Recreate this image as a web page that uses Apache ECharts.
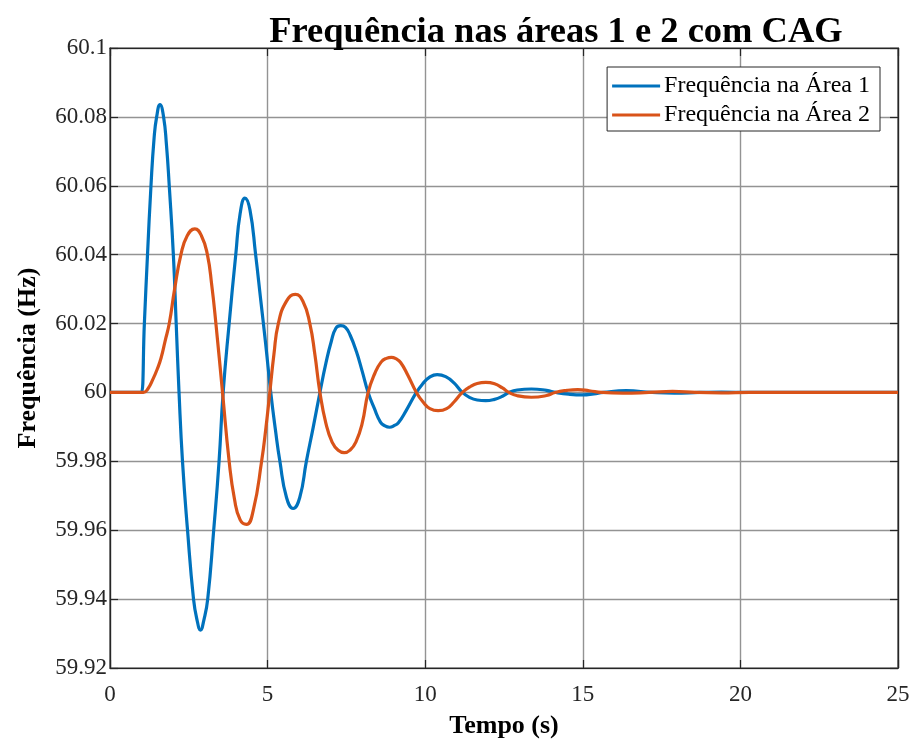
<!DOCTYPE html>
<html>
<head>
<meta charset="utf-8">
<script src="https://cdn.jsdelivr.net/npm/echarts@6/dist/echarts.min.js"></script>
<style>html,body{margin:0;padding:0;background:#fff}#c{width:919px;height:744px}</style>
</head>
<body>
<div id="c"></div>
<script>
const seriesNames = ['Frequência na Área 1', 'Frequência na Área 2'];
const xTicks = [0, 5, 10, 15, 20, 25];
const yTicks = [59.92, 59.94, 59.96, 59.98, 60, 60.02, 60.04, 60.06, 60.08, 60.1];

// Área 1 (t [s], f [Hz])
const area1 = [
  [0, 60], [0.95, 60], [1.0, 60], [1.09, 60.02], [1.19, 60.04], [1.30, 60.06], [1.40, 60.074],
  [1.48, 60.08], [1.585, 60.0836], [1.70, 60.08], [1.79, 60.072], [1.88, 60.06], [2.01, 60.04],
  [2.10, 60.02], [2.19, 60.0], [2.30, 59.98], [2.46, 59.96], [2.65, 59.94], [2.76, 59.934],
  [2.87, 59.931], [2.98, 59.934], [3.10, 59.94], [3.29, 59.96], [3.46, 59.98], [3.59, 60.0],
  [3.78, 60.02], [3.99, 60.04], [4.13, 60.052], [4.28, 60.0564], [4.44, 60.053], [4.62, 60.04],
  [4.78, 60.027], [4.94, 60.014], [5.10, 60.0], [5.25, 59.989], [5.39, 59.98], [5.60, 59.9695],
  [5.81, 59.9663], [6.02, 59.9695], [6.23, 59.98], [6.45, 59.99], [6.66, 60.0], [6.85, 60.0085],
  [7.02, 60.0148], [7.17, 60.0187], [7.32, 60.0194], [7.47, 60.0189], [7.62, 60.0166], [7.82, 60.0118],
  [8.00, 60.0062], [8.19, 60.0], [8.38, 59.9955], [8.58, 59.9914], [8.72, 59.9903], [8.87, 59.9899],
  [9.02, 59.9904], [9.15, 59.9912], [9.40, 59.9948], [9.72, 60.0], [9.92, 60.0025], [10.12, 60.0043],
  [10.38, 60.0052], [10.65, 60.0046], [10.92, 60.0027], [11.18, 60.0], [11.42, 59.9985], [11.65, 59.9978],
  [11.92, 59.9976], [12.2, 59.998], [12.45, 59.9989], [12.66, 60.0], [12.92, 60.0007], [13.37, 60.001],
  [13.85, 60.0006], [14.15, 60.0], [14.55, 59.9995], [15.0, 59.9993], [15.35, 59.9996], [15.65, 60.0],
  [16.38, 60.0005], [17.2, 60.0], [17.9, 59.9998], [18.7, 60.0], [19.4, 60.0001], [20.3, 60.0], [25, 60.0]
];

// Área 2
const area2 = [
  [0, 60], [1.0, 60], [1.06, 60], [1.20, 60.001], [1.37, 60.004], [1.50, 60.0068], [1.62, 60.01],
  [1.75, 60.015], [1.88, 60.02], [2.05, 60.03], [2.25, 60.04], [2.45, 60.0455], [2.69, 60.0475],
  [2.90, 60.0455], [3.09, 60.04], [3.23, 60.031], [3.36, 60.02], [3.57, 60.0], [3.78, 59.98],
  [3.95, 59.969], [4.13, 59.963], [4.33, 59.9617], [4.55, 59.966], [4.81, 59.98], [4.95, 59.99],
  [5.07, 60.0], [5.20, 60.011], [5.34, 60.02], [5.60, 60.0265], [5.88, 60.0285], [6.12, 60.0265],
  [6.34, 60.02], [6.50, 60.011], [6.66, 60.0], [6.85, 59.991], [7.05, 59.9855], [7.24, 59.9832],
  [7.43, 59.9825], [7.62, 59.9833], [7.80, 59.9856], [8.00, 59.991], [8.19, 60.0], [8.40, 60.0055],
  [8.60, 60.0088], [8.77, 60.0099], [8.93, 60.0102], [9.07, 60.0098], [9.22, 60.0087], [9.45, 60.005],
  [9.72, 60.0], [9.95, 59.997], [10.15, 59.9953], [10.41, 59.9947], [10.68, 59.9953], [10.92, 59.9973],
  [11.18, 60.0], [11.45, 60.0018], [11.65, 60.0026], [11.92, 60.0029], [12.2, 60.0025], [12.45, 60.0013],
  [12.66, 60.0], [12.9, 59.9991], [13.37, 59.9986], [13.85, 59.9991], [14.12, 60.0], [14.5, 60.0006],
  [14.84, 60.0008], [15.2, 60.0005], [15.6, 60.0], [16.27, 59.9998], [17.1, 60.0], [17.85, 60.0003],
  [18.6, 60.0], [19.4, 59.9999], [20.3, 60.0], [25, 60.0]
];

const FONT = 'Liberation Serif';
const fmtY = v => String(parseFloat(Number(v).toFixed(2)));
const chart = echarts.init(document.getElementById('c'), null, {renderer: 'canvas'});
const axisCommon = {
  axisLine: {show: true, onZero: false, lineStyle: {color: '#262626', width: 1.2}},
  axisTick: {show: true, inside: true, length: 8, lineStyle: {color: '#262626', width: 1.2}},
};
chart.setOption({
  animation: false,
  backgroundColor: '#fff',
  title: {
    text: 'Frequência nas áreas 1 e 2 com CAG',
    left: 551, top: 9, textAlign: 'center',
    textStyle: {fontFamily: FONT, fontWeight: 'bold', fontSize: 36.5, color: '#000'}
  },
  legend: {
    data: seriesNames,
    orient: 'vertical',
    right: 39, top: 67,
    itemWidth: 48, itemHeight: 3, itemGap: 5,
    icon: 'rect',
    padding: [7, 10, 4, 5],
    backgroundColor: '#fff',
    borderColor: '#262626', borderWidth: 1,
    textStyle: {fontFamily: FONT, fontSize: 24, color: '#000', padding: [0, 0, 0, -1]}
  },
  grid: {left: 110, right: 21, top: 48, bottom: 73, show: true, borderColor: '#262626', borderWidth: 1.2},
  xAxis: [{
    type: 'value', min: xTicks[0], max: xTicks[xTicks.length - 1], interval: 5,
    name: 'Tempo (s)', nameLocation: 'middle', nameGap: 45,
    nameTextStyle: {fontFamily: FONT, fontWeight: 'bold', fontSize: 26, color: '#000'},
    axisLabel: {fontFamily: FONT, fontSize: 23, color: '#262626', margin: 15},
    splitLine: {show: true, lineStyle: {color: '#939393', width: 1.4}},
    ...axisCommon
  }, {
    type: 'value', position: 'top', min: xTicks[0], max: xTicks[xTicks.length - 1], interval: 5,
    axisLabel: {show: false}, splitLine: {show: false}, ...axisCommon
  }],
  yAxis: [{
    type: 'value', min: yTicks[0], max: yTicks[yTicks.length - 1], interval: 0.02,
    name: 'Frequência (Hz)', nameLocation: 'middle', nameGap: 69,
    nameTextStyle: {fontFamily: FONT, fontWeight: 'bold', fontSize: 26, color: '#000'},
    axisLabel: {fontFamily: FONT, fontSize: 23, color: '#262626', margin: 3, formatter: fmtY},
    splitLine: {show: true, lineStyle: {color: '#939393', width: 1.4}},
    ...axisCommon
  }, {
    type: 'value', position: 'right', min: yTicks[0], max: yTicks[yTicks.length - 1], interval: 0.02,
    axisLabel: {show: false}, splitLine: {show: false}, ...axisCommon
  }],
  series: [{
    name: seriesNames[0], type: 'line', data: area1, showSymbol: false, symbol: 'none',
    smooth: 0.5, lineStyle: {color: '#0072BD', width: 3.2}, itemStyle: {color: '#0072BD'}, z: 3
  }, {
    name: seriesNames[1], type: 'line', data: area2, showSymbol: false, symbol: 'none',
    smooth: 0.5, lineStyle: {color: '#D95319', width: 3.2}, itemStyle: {color: '#D95319'}, z: 4
  }]
});
</script>
</body>
</html>
